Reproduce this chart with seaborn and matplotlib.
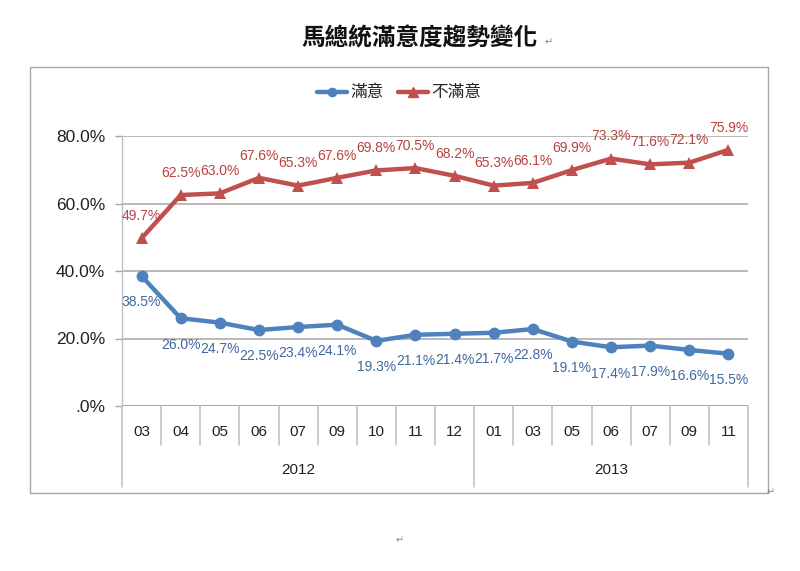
import matplotlib
matplotlib.use("Agg")
import matplotlib.pyplot as plt
import matplotlib.transforms as mtransforms
from matplotlib.lines import Line2D
from matplotlib.patches import Rectangle
import seaborn as sns
import pandas as pd

# ---- data ----
months = ["03", "04", "05", "06", "07", "09", "10", "11", "12",
          "01", "03", "05", "06", "07", "09", "11"]
years = ["2012", "2013"]
year_counts = [9, 7]
satisfied = [38.5, 26.0, 24.7, 22.5, 23.4, 24.1, 19.3, 21.1, 21.4,
             21.7, 22.8, 19.1, 17.4, 17.9, 16.6, 15.5]
dissatisfied = [49.7, 62.5, 63.0, 67.6, 65.3, 67.6, 69.8, 70.5, 68.2,
                65.3, 66.1, 69.9, 73.3, 71.6, 72.1, 75.9]
series_names = ["滿意", "不滿意"]
yticks = [0, 20, 40, 60, 80]
ytick_labels = [".0%", "20.0%", "40.0%", "60.0%", "80.0%"]
title = "馬總統滿意度趨勢變化"

BLUE = "#4F81BD"
RED = "#C0504D"
BLUE_TXT = "#40689E"
RED_TXT = "#B8413E"
GRID = "#A6A6A6"

sns.set_theme(style="white")
plt.rcParams["font.family"] = ["Liberation Sans", "Noto Sans CJK TC", "DejaVu Sans"]

df = pd.DataFrame({
    "idx": list(range(len(months))) * 2,
    "value": satisfied + dissatisfied,
    "series": [series_names[0]] * len(months) + [series_names[1]] * len(months),
})

fig = plt.figure(figsize=(8, 5.71), dpi=100)

# chart frame
fig.patches.append(Rectangle((30 / 800, 1 - 493 / 571), 738 / 800, 426 / 571,
                             transform=fig.transFigure, fill=False,
                             edgecolor=GRID, linewidth=1.0))

ax = fig.add_axes([122 / 800, 1 - 406 / 571, 626 / 800, 270 / 571])
ax.set_facecolor("none")

sns.lineplot(data=df, x="idx", y="value", hue="series", style="series",
             palette={series_names[0]: BLUE, series_names[1]: RED},
             markers={series_names[0]: "o", series_names[1]: "^"},
             dashes=False, linewidth=3.2, markersize=8.5,
             markeredgewidth=0, legend=False, ax=ax, zorder=3)

ax.set_xlim(-0.5, len(months) - 0.5)
ax.set_ylim(0, 80)
ax.set_yticks(yticks)
ax.set_yticklabels(ytick_labels, fontsize=12.5, color="#222222")
ax.set_xticks([])
ax.set_xlabel("")
ax.set_ylabel("")
for name, s in ax.spines.items():
    if name == "left":
        s.set_visible(True)
        s.set_color("#BFBFBF")
        s.set_linewidth(1.0)
    else:
        s.set_visible(False)
ax.tick_params(axis="y", length=5, width=1, color=GRID, pad=7, left=True)

for v in yticks:
    ax.axhline(v, color="#8C8C8C" if v == 0 else GRID, linewidth=1.1, zorder=1)

# data labels
for i, v in enumerate(dissatisfied):
    ax.annotate(f"{v:.1f}%", (i, v), xytext=(0, 16), textcoords="offset points",
                ha="center", va="center", fontsize=10, color=RED_TXT)
for i, v in enumerate(satisfied):
    ax.annotate(f"{v:.1f}%", (i, v), xytext=(0, -19), textcoords="offset points",
                ha="center", va="center", fontsize=10, color=BLUE_TXT)

# multi-level category axis
trans = mtransforms.blended_transform_factory(ax.transData, ax.transAxes)
boundaries = [-0.5]
for c in year_counts:
    boundaries.append(boundaries[-1] + c)
for k in range(1, len(months)):
    x = k - 0.5
    if x in boundaries:
        continue
    ax.plot([x, x], [0, -0.145], transform=trans, color="#BFBFBF",
            linewidth=1.1, clip_on=False)
for x in boundaries:
    ax.plot([x, x], [0, -0.30], transform=trans, color="#BFBFBF",
            linewidth=1.1, clip_on=False)
for i, m in enumerate(months):
    ax.text(i, -0.097, m, transform=trans, ha="center", va="center",
            fontsize=11, color="#222222")
for j, y in enumerate(years):
    mid = (boundaries[j] + boundaries[j + 1]) / 2
    ax.text(mid, -0.237, y, transform=trans, ha="center", va="center",
            fontsize=11, color="#222222")

# legend
handles = [
    Line2D([0], [0], color=BLUE, lw=3.2, marker="o", markersize=6),
    Line2D([0], [0], color=RED, lw=3.2, marker="^", markersize=6.5),
]
fig.legend(handles, series_names, loc="center", bbox_to_anchor=(399 / 800, 1 - 93 / 571),
           ncol=2, frameon=False, handlelength=1.8, handletextpad=0.2,
           columnspacing=0.9, prop={"family": ["Noto Sans CJK TC"], "size": 12})

# title
fig.text(420 / 800, 1 - 38 / 571, title, ha="center", va="center",
         fontsize=17, fontweight="bold", family=["Noto Sans CJK TC"], color="#111111")

# paragraph marks
for (px, py) in [(549, 42), (771, 492), (400, 540)]:
    fig.text(px / 800, 1 - py / 571, "↵", ha="center", va="center",
             fontsize=7, color="#888888", family=["DejaVu Sans"])

fig.savefig("out.png", dpi=100)
